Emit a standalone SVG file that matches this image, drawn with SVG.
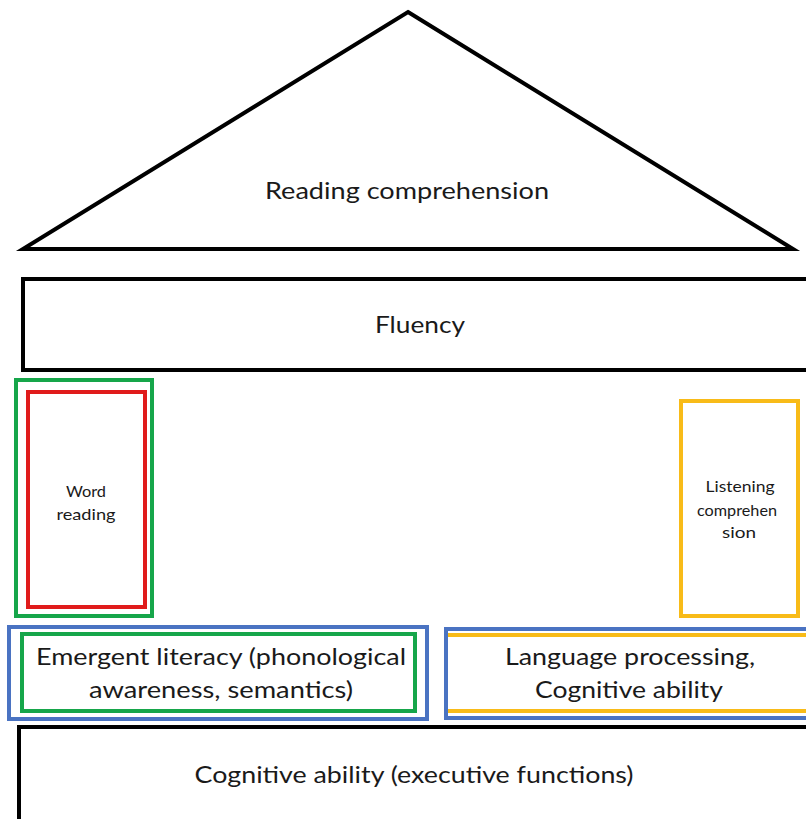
<svg xmlns="http://www.w3.org/2000/svg" width="806" height="819" viewBox="0 0 806 819">
  <style>
    .bg { fill: #ffffff; }
    .blk { fill: none; stroke: #000000; stroke-width: 4; }
    .grn { fill: none; stroke: #16a64a; stroke-width: 4; }
    .red { fill: none; stroke: #e01b1b; stroke-width: 4; }
    .yel { fill: none; stroke: #f8bb18; stroke-width: 4; }
    .blu { fill: none; stroke: #4a73c2; stroke-width: 4; }
    .lg { font-family: Lato, "Open Sans", "Liberation Sans", sans-serif; font-size: 23px; fill: #1a1a1a; text-anchor: middle; }
    .sm { font-family: Lato, "Open Sans", "Liberation Sans", sans-serif; font-size: 15px; fill: #1a1a1a; text-anchor: middle; }
  </style>
  <rect class="bg" x="0" y="0" width="806" height="819"/>

  <!-- roof -->
  <g id="reading-comprehension">
    <polygon class="blk" points="408,12 793,249 23,249" stroke-linejoin="miter"/>
    <text class="lg" x="407" y="199" textLength="284" lengthAdjust="spacingAndGlyphs">Reading comprehension</text>
  </g>

  <!-- beam -->
  <g id="fluency">
    <rect class="blk" x="23" y="279" width="800" height="91"/>
    <text class="lg" x="420" y="333" textLength="90" lengthAdjust="spacingAndGlyphs">Fluency</text>
  </g>

  <!-- left pillar -->
  <g id="word-reading">
    <rect class="grn" x="16" y="380" width="136" height="236"/>
    <rect class="red" x="28" y="392" width="117" height="215"/>
    <text class="sm" x="86" y="497" textLength="40" lengthAdjust="spacingAndGlyphs">Word</text>
    <text class="sm" x="86" y="520" textLength="59" lengthAdjust="spacingAndGlyphs">reading</text>
  </g>

  <!-- right pillar -->
  <g id="listening-comprehension">
    <rect class="yel" x="681" y="401" width="117" height="215"/>
    <text class="sm" x="740" y="492" textLength="69" lengthAdjust="spacingAndGlyphs">Listening</text>
    <text class="sm" x="737" y="516" textLength="80" lengthAdjust="spacingAndGlyphs">comprehen</text>
    <text class="sm" x="739" y="538" textLength="34" lengthAdjust="spacingAndGlyphs">sion</text>
  </g>

  <!-- left base block -->
  <g id="emergent-literacy">
    <rect class="blu" x="9" y="627" width="418" height="92"/>
    <rect class="grn" x="22" y="634" width="393" height="77"/>
    <text class="lg" x="221" y="665" textLength="370" lengthAdjust="spacingAndGlyphs">Emergent literacy (phonological</text>
    <text class="lg" x="221" y="698" textLength="264" lengthAdjust="spacingAndGlyphs">awareness, semantics)</text>
  </g>

  <!-- right base block: yellow inner frame sits under the blue outline on the left -->
  <g id="language-processing">
    <rect class="yel" x="446" y="635" width="380" height="76"/>
    <rect class="blu" x="446" y="629" width="380" height="89"/>
    <text class="lg" x="630" y="665" textLength="250" lengthAdjust="spacingAndGlyphs">Language processing,</text>
    <text class="lg" x="629" y="698" textLength="188" lengthAdjust="spacingAndGlyphs">Cognitive ability</text>
  </g>

  <!-- foundation -->
  <g id="cognitive-ability">
    <rect class="blk" x="19" y="727" width="800" height="100"/>
    <text class="lg" x="414" y="783" textLength="439" lengthAdjust="spacingAndGlyphs">Cognitive ability (executive functions)</text>
  </g>

  <g id="connectors"/>
</svg>
